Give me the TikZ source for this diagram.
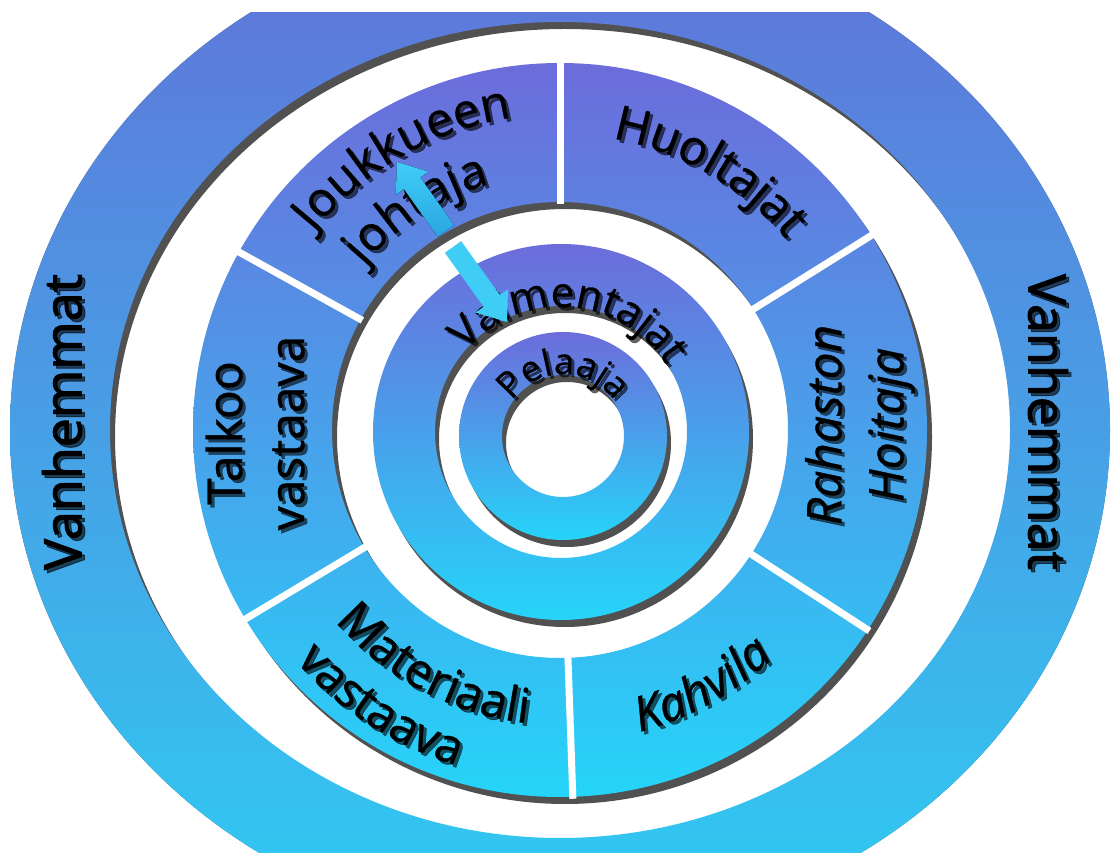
\documentclass[tikz,border=0pt]{standalone}
\usepackage{fontspec}
\setmainfont{Open Sans}
\newfontfamily\labfam{Open Sans}[FakeBold=0.7]
\newfontfamily\vanfam{Open Sans}[FakeBold=1.8]
\usetikzlibrary{decorations.text,calc}
\definecolor{ringtop}{HTML}{6C6CDB}
\definecolor{ringbot}{HTML}{26D4F9}
\definecolor{outtop}{HTML}{6172D8}
\definecolor{outbot}{HTML}{2ECDF3}
\definecolor{shadowc}{HTML}{333333}
\definecolor{arrowlight}{HTML}{3FCDF6}
\definecolor{arrowdark}{HTML}{2AA6E2}
\newcommand\segfont{\labfam\fontsize{48}{62}\selectfont}
\newcommand\segitfont{\labfam\itshape\fontsize{48}{62}\selectfont}
\newcommand\valfont{\labfam\fontsize{42}{46}\selectfont}
\newcommand\pelfont{\labfam\fontsize{36}{40}\selectfont}
\newcommand\vanfont{\vanfam\fontsize{52}{58}\selectfont}
% #1 centre, #2 radius, #3 start angle, #4 end angle, #5 font command, #6 word
\newcommand\arcword[6]{%
  \begin{scope}[opacity=0.6]
  \path[decorate,decoration={text along path,text align=center,text={|#5|#6}}]
    ([shift={(#3:#2)}]#1) ++(3,-3) arc[start angle=#3,end angle=#4,radius=#2];
  \end{scope}
  \path[decorate,decoration={text along path,text align=center,text={|#5|#6}}]
    ([shift={(#3:#2)}]#1) arc[start angle=#3,end angle=#4,radius=#2];
}
% block arrow from named tail #1 to named tip #2
\newcommand\blockarrow[3]{%
  \coordinate (#1base) at ($(#2)!26pt!(#1)$);
  \fill[#3]
    ($(#1)!10pt!90:(#2)$) -- ($(#1base)!10pt!90:(#2)$) -- ($(#1base)!20pt!90:(#2)$)
    -- (#2)
    -- ($(#1base)!20pt!-90:(#2)$) -- ($(#1base)!10pt!-90:(#2)$) -- ($(#1)!10pt!-90:(#2)$) -- cycle;
}
\tikzset{
  ringshade/.style={even odd rule,top color=ringtop,bottom color=ringbot},
  shadowfill/.style={even odd rule,fill=shadowc,opacity=0.85},
  divider/.style={white,line width=7pt},
  flatlabel/.style={font=\segfont,align=center,text=black,inner sep=0pt},
  shadowlabel/.style={flatlabel,opacity=0.6},
  uparrowfill/.style={top color=arrowlight,bottom color=arrowdark},
  dnarrowfill/.style={fill=arrowlight}
}
\begin{document}
\begin{tikzpicture}[x=1pt,y=1pt]
\useasboundingbox (0,0) rectangle (1111,865);
\coordinate (Co) at (560,435);
\coordinate (Cv) at (561,433);
\coordinate (Cp) at (563,429);

% ---------- outer ring (Vanhemmat)
\begin{scope}
  \clip (0,13) rectangle (1111,852);
  \fill[shadowfill] (Co) ellipse[x radius=550,y radius=505]
        ([shift={(5,-7)}]Co) ellipse[x radius=450,y radius=408];
  \path[even odd rule,top color=outtop,bottom color=outbot]
        (Co) ellipse[x radius=550,y radius=505]
        (Co) ellipse[x radius=450,y radius=408];
\end{scope}

% ---------- segment ring
\fill[shadowfill] ([shift={(5,-7)}]Co) circle[radius=367] ([shift={(5,-7)}]Co) circle[radius=228];
\path[ringshade] (Co) circle[radius=367] (Co) circle[radius=228];
\foreach \a in {90,32,-33,-88,-149,151}
  \draw[divider] ([shift={(\a:226)}]Co) -- ([shift={(\a:369)}]Co);

% ---------- Valmentajat ring
\fill[shadowfill] ([shift={(4,-7)}]Cv) circle[radius=188] ([shift={(4,-7)}]Cv) circle[radius=126];
\path[ringshade] (Cv) circle[radius=188] (Cv) circle[radius=126];

% ---------- Pelaaja ring
\fill[shadowfill] ([shift={(4,-7)}]Cp) circle[radius=104] ([shift={(4,-7)}]Cp) circle[radius=61];
\path[ringshade] (Cp) circle[radius=104] (Cp) circle[radius=61];

% ---------- curved labels
\arcword{Co}{316}{165}{75}{\segfont}{Joukkueen}
\arcword{Co}{256}{168}{78}{\segfont}{johtaja}
\arcword{Co}{296}{105}{15}{\segfont}{Huoltajat}
\arcword{Co}{312}{-106}{-16}{\segitfont}{Kahvila}
\arcword{Co}{295}{197}{287}{\segfont}{Materiaali}
\arcword{Co}{351}{192}{282}{\segfont}{vastaava}
\arcword{Cv}{125}{170}{2}{\valfont}{Valmentajat}
\arcword{Cp}{62}{178}{2}{\pelfont}{Pelaaja}

% ---------- arrows
\coordinate (upTail) at (446,634);
\coordinate (upTip) at (397,703);
\coordinate (dnTail) at (453,618);
\coordinate (dnTip) at (507,543);
\blockarrow{upTail}{upTip}{uparrowfill}
\blockarrow{dnTail}{dnTip}{dnarrowfill}

% ---------- straight labels
\node[shadowlabel,rotate=90] at (258,429) {Talkoo\\vastaava};
\node[flatlabel,rotate=90] (talkoo) at (255,432) {Talkoo\\vastaava};
\node[shadowlabel,font=\segitfont,rotate=90] at (863,437) {Rahaston\\Hoitaja};
\node[flatlabel,font=\segitfont,rotate=90] (rahasto) at (860,440) {Rahaston\\Hoitaja};
\node[shadowlabel,font=\vanfont,rotate=90] at (65,440) {Vanhemmat};
\node[flatlabel,font=\vanfont,rotate=90] (vanL) at (62,443) {Vanhemmat};
\node[shadowlabel,font=\vanfont,rotate=-90] at (1051,440) {Vanhemmat};
\node[flatlabel,font=\vanfont,rotate=-90] (vanR) at (1048,443) {Vanhemmat};
\end{tikzpicture}
\end{document}
